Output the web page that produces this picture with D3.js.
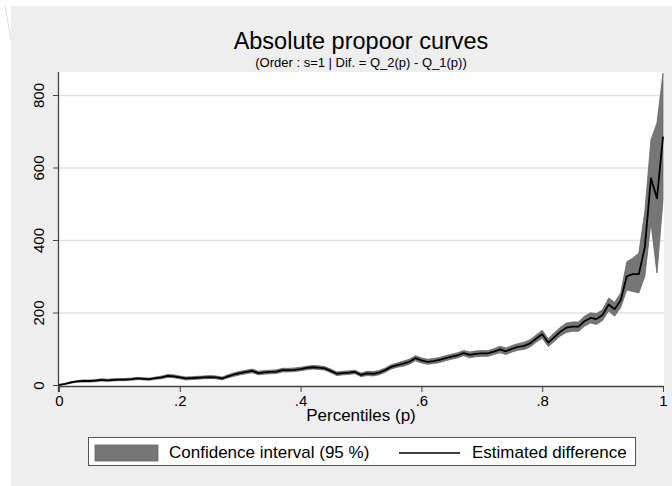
<!DOCTYPE html>
<html>
<head>
<meta charset="utf-8">
<script src="https://cdn.jsdelivr.net/npm/d3@7"></script>
<style>
  body { margin: 0; background: #fff; }
  svg { display: block; font-family: "Liberation Sans", Arial, sans-serif; }
</style>
</head>
<body>
<div id="chart"></div>
<script>
// percentiles (p)
var pctl = [0,.01,.02,.03,.04,.05,.06,.07,.08,.09,.10,.11,.12,.13,.14,.15,.16,.17,.18,.19,.20,
  .21,.22,.23,.24,.25,.26,.27,.28,.29,.30,.31,.32,.33,.34,.35,.36,.37,.38,.39,.40,
  .41,.42,.43,.44,.45,.46,.47,.48,.49,.50,.51,.52,.53,.54,.55,.56,.57,.58,.59,.60,
  .61,.62,.63,.64,.65,.66,.67,.68,.69,.70,.71,.72,.73,.74,.75,.76,.77,.78,.79,.80,
  .81,.82,.83,.84,.85,.86,.87,.88,.89,.90,.91,.92,.93,.94,.95,.96,.97,.98,.99,1];
// estimated difference Q_2(p) - Q_1(p)
var estDiff = [0,3,7,10,11,11,12,14,13,14,15,15,16,18,17,16,19,21,25,24,21,
  18,19,20,21,22,21,18,24,29,33,36,39,33,35,36,37,41,41,42,44,
  47,49,48,46,39,31,33,34,36,28,32,31,34,41,50,55,59,64,74,68,
  64,66,69,74,78,82,88,83,86,87,87,92,98,93,100,105,108,115,128,140,
  117,132,147,158,161,161,176,185,182,193,222,209,234,300,306,306,381,570,515,685];
// 95% confidence interval bounds
var ciLow = [0,2,5,8,8,8,9,11,10,11,12,12,13,15,14,13,16,17,21,20,17,
  14,15,16,17,18,17,14,20,24,28,31,34,28,30,31,32,36,36,37,39,
  42,44,43,41,34,26,28,29,31,23,26,25,28,35,44,49,52,57,67,61,
  57,59,62,67,71,75,81,75,78,79,79,84,89,84,91,96,98,105,118,129,
  106,120,135,145,148,148,162,171,167,178,204,190,214,262,258,254,300,447,309,510];
var ciHigh = [0,4,9,12,14,14,15,17,16,17,18,18,19,21,20,19,22,25,29,28,25,
  22,23,24,25,26,25,22,28,34,38,41,44,38,40,41,42,46,46,47,49,
  52,54,53,51,44,36,38,39,41,33,38,37,40,47,56,61,66,71,81,75,
  71,73,76,81,85,89,95,91,94,95,95,100,107,102,109,114,118,125,138,151,
  128,144,159,171,174,174,190,199,197,208,240,228,254,340,350,364,480,676,723,860];

var xTicks = [0, .2, .4, .6, .8, 1];
var xTickLabels = ["0", ".2", ".4", ".6", ".8", "1"];
var yTicks = [0, 200, 400, 600, 800];

var W = 672, H = 486;
var plot = {left: 59, right: 664, top: 72, bottom: 386};
var fontFam = "Liberation Sans, Arial, sans-serif";

var svg = d3.select("#chart").append("svg").attr("width", W).attr("height", H);

// graph region background
svg.append("rect").attr("x", 11).attr("y", 6).attr("width", W - 11).attr("height", H - 6)
    .attr("fill", "#eeeeee");
svg.append("line").attr("x1", 5).attr("y1", 6).attr("x2", 11).attr("y2", 40)
    .attr("stroke", "#dddddd").attr("stroke-width", 1);

// plot region
svg.append("rect").attr("x", plot.left).attr("y", plot.top)
    .attr("width", plot.right - plot.left).attr("height", plot.bottom - plot.top)
    .attr("fill", "#ffffff");

var xScale = d3.scaleLinear().domain([0, 1]).range([plot.left, plot.right - 1]);
var yScale = d3.scaleLinear().domain([0, 800]).range([plot.bottom - 1, 95]);

// gridlines
svg.append("g").selectAll("line").data(yTicks.slice(1)).enter().append("line")
    .attr("x1", plot.left).attr("x2", plot.right)
    .attr("y1", function (d) { return yScale(d) + 0.5; })
    .attr("y2", function (d) { return yScale(d) + 0.5; })
    .attr("stroke", "#e2e2e2").attr("stroke-width", 1.5);

// confidence band
var band = d3.area()
    .x(function (d, i) { return xScale(pctl[i]); })
    .y0(function (d, i) { return yScale(ciLow[i]); })
    .y1(function (d, i) { return yScale(ciHigh[i]); });
svg.append("path").datum(pctl).attr("d", band)
    .attr("fill", "#767676").attr("stroke", "#666666").attr("stroke-width", 0.8);

// estimated difference
var line = d3.line()
    .x(function (d, i) { return xScale(pctl[i]); })
    .y(function (d, i) { return yScale(estDiff[i]); });
svg.append("path").datum(pctl).attr("d", line)
    .attr("fill", "none").attr("stroke", "#000000").attr("stroke-width", 1.8)
    .attr("stroke-linejoin", "round");

// axes
var xAxis = svg.append("g").attr("transform", "translate(0," + plot.bottom + ")")
    .call(d3.axisBottom(xScale).tickValues(xTicks)
        .tickFormat(function (d, i) { return xTickLabels[i]; })
        .tickSize(6).tickPadding(3));
xAxis.select(".domain").attr("d", "M" + plot.left + ",0.5H" + plot.right);
var yAxis = svg.append("g").attr("transform", "translate(" + plot.left + ",0)")
    .call(d3.axisLeft(yScale).tickValues(yTicks).tickSize(6));
yAxis.select(".domain").attr("d", "M-0.5," + plot.top + "V" + (plot.bottom + 6));
svg.selectAll(".domain").attr("stroke", "#444444").attr("stroke-width", 1.3);
svg.selectAll(".tick line").attr("stroke", "#444444");
xAxis.selectAll("text").attr("font-size", 15).attr("fill", "#000")
    .attr("font-family", fontFam);
yAxis.selectAll("text").attr("font-size", 15).attr("fill", "#000")
    .attr("font-family", fontFam)
    .attr("text-anchor", "middle").attr("x", 0).attr("dy", 0)
    .attr("transform", "translate(-15,0) rotate(-90)");

// titles
svg.append("text").attr("x", 361).attr("y", 49).attr("text-anchor", "middle")
    .attr("font-size", 23.5).text("Absolute propoor curves");
svg.append("text").attr("x", 361).attr("y", 67).attr("text-anchor", "middle")
    .attr("font-size", 13).text("(Order : s=1 | Dif. = Q_2(p) - Q_1(p))");
svg.append("text").attr("x", 361).attr("y", 421).attr("text-anchor", "middle")
    .attr("font-size", 17).text("Percentiles (p)");

// legend
var legend = svg.append("g");
legend.append("rect").attr("x", 88.5).attr("y", 437.5).attr("width", 547).attr("height", 28)
    .attr("fill", "#ffffff").attr("stroke", "#555555").attr("stroke-width", 1);
legend.append("rect").attr("x", 95).attr("y", 445).attr("width", 63).attr("height", 16)
    .attr("fill", "#767676").attr("stroke", "#666666").attr("stroke-width", 0.8);
legend.append("text").attr("x", 169).attr("y", 458).attr("font-size", 17)
    .text("Confidence interval (95 %)");
legend.append("line").attr("x1", 399).attr("x2", 460).attr("y1", 453).attr("y2", 453)
    .attr("stroke", "#000").attr("stroke-width", 1.5);
legend.append("text").attr("x", 472).attr("y", 458).attr("font-size", 17)
    .text("Estimated difference");
</script>
</body>
</html>
